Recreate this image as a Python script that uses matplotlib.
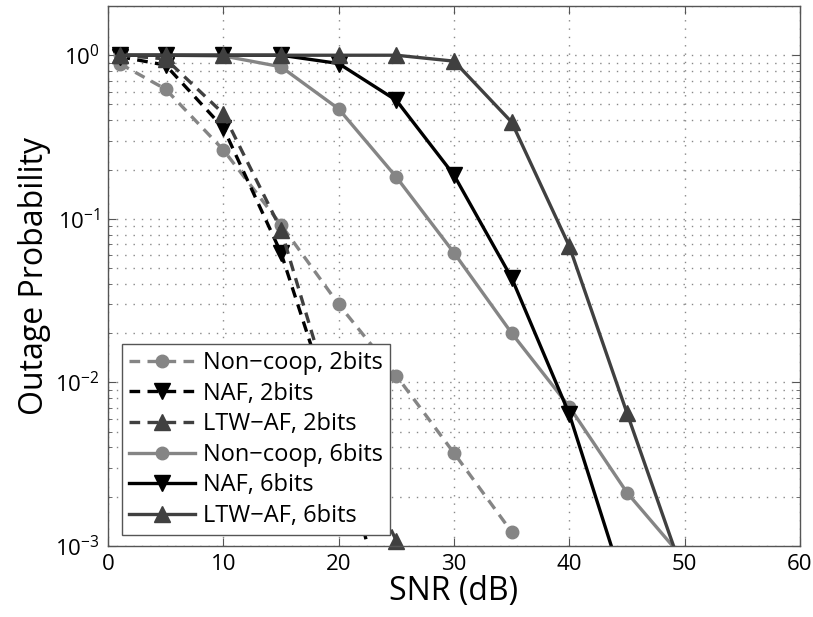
import numpy as np
import matplotlib
matplotlib.use("Agg")
import matplotlib.pyplot as plt
from matplotlib.ticker import LogLocator, FixedLocator, NullFormatter

plt.rcParams["font.family"] = ["Open Sans", "DejaVu Sans"]
plt.rcParams["mathtext.fontset"] = "custom"
plt.rcParams["mathtext.rm"] = "Open Sans"
plt.rcParams["mathtext.default"] = "regular"

# SNR (dB)
snr_full = [1, 5, 10, 15, 20, 25, 30, 35, 40, 45, 50]
snr_2b   = [1, 5, 10, 15, 20, 25, 30, 35]

# 2 bits
noncoop_2b = [0.89, 0.62, 0.264, 0.092, 0.030, 0.011, 0.0037, 0.00122]
naf_2b     = [0.98, 0.87, 0.36, 0.062, 0.0051, 0.0002]
ltw_2b     = [1.0, 0.95, 0.44, 0.086, 0.0057, 0.00108]

# 6 bits
noncoop_6b = [1.0, 1.0, 0.99, 0.85, 0.47, 0.18, 0.062, 0.020, 0.0071, 0.00212, 0.00082]
naf_6b     = [1.0, 1.0, 1.0, 1.0, 0.89, 0.53, 0.185, 0.0435, 0.0064, 0.0005]
ltw_6b     = [1.0, 1.0, 1.0, 1.0, 1.0, 1.0, 0.92, 0.39, 0.068, 0.0065, 0.00064]

GRIS_CLAIR = "#858585"
NOIR       = "#000000"
GRIS_FONCE = "#404040"

fig = plt.figure(figsize=(8.13, 6.17), dpi=100)
ax = fig.add_axes([0.1328, 0.1151, 0.8512, 0.8752])

tirets = (0, (3.2, 2.2))
lw = 2.4
ms = 10

ax.plot(snr_2b, noncoop_2b, color=GRIS_CLAIR, linestyle=tirets, lw=lw,
        marker="o", ms=ms - 1, label="Non\u2212coop, 2bits")
ax.plot(snr_2b[:len(naf_2b)], naf_2b, color=NOIR, linestyle=tirets, lw=lw,
        marker="v", ms=ms + 1, label="NAF, 2bits")
# clip_on=False pour garder le triangle pose sur le bord bas
ax.plot(snr_2b[:len(ltw_2b)], ltw_2b, color=GRIS_FONCE, linestyle=tirets, lw=lw,
        marker="^", ms=ms + 1, label="LTW\u2212AF, 2bits", clip_on=False)
ax.plot(snr_full, noncoop_6b, color=GRIS_CLAIR, lw=lw,
        marker="o", ms=ms - 1, label="Non\u2212coop, 6bits")
ax.plot(snr_full[:len(naf_6b)], naf_6b, color=NOIR, lw=lw,
        marker="v", ms=ms + 1, label="NAF, 6bits")
ax.plot(snr_full, ltw_6b, color=GRIS_FONCE, lw=lw,
        marker="^", ms=ms + 1, label="LTW\u2212AF, 6bits")

ax.set_yscale("log")
ax.set_xlim(0, 60)
ax.set_ylim(1e-3, 2)
ax.xaxis.set_major_locator(FixedLocator([0, 10, 20, 30, 40, 50, 60]))
ax.yaxis.set_major_locator(LogLocator(base=10, numticks=10))
ax.yaxis.set_minor_locator(LogLocator(base=10, subs=np.arange(2, 10), numticks=10))
ax.yaxis.set_minor_formatter(NullFormatter())

ax.tick_params(which="both", direction="in", top=True, right=True,
               labelsize=16, color="#555555")
ax.tick_params(which="major", length=6, pad=6)
ax.tick_params(which="minor", length=3)
for s in ax.spines.values():
    s.set_color("#555555")
    s.set_linewidth(1.0)

ax.grid(True, which="major", axis="x", color="#888888", linestyle=(0, (1, 5)), lw=1)
ax.grid(True, which="both", axis="y", color="#888888", linestyle=(0, (1, 5)), lw=1)
ax.set_axisbelow(True)

ax.set_xlabel("SNR (dB)", fontsize=23, labelpad=0)
ax.set_ylabel("Outage Probability", fontsize=23, labelpad=3)

leg = ax.legend(loc="lower left", bbox_to_anchor=(0.02, 0.02), borderaxespad=0,
                fontsize=17, handlelength=2.8, handletextpad=0.35,
                borderpad=0.3, labelspacing=0.28, fancybox=False, framealpha=1)
leg.get_frame().set_edgecolor("#555555")
leg.get_frame().set_linewidth(1.0)

plt.savefig("out.png", dpi=100)
